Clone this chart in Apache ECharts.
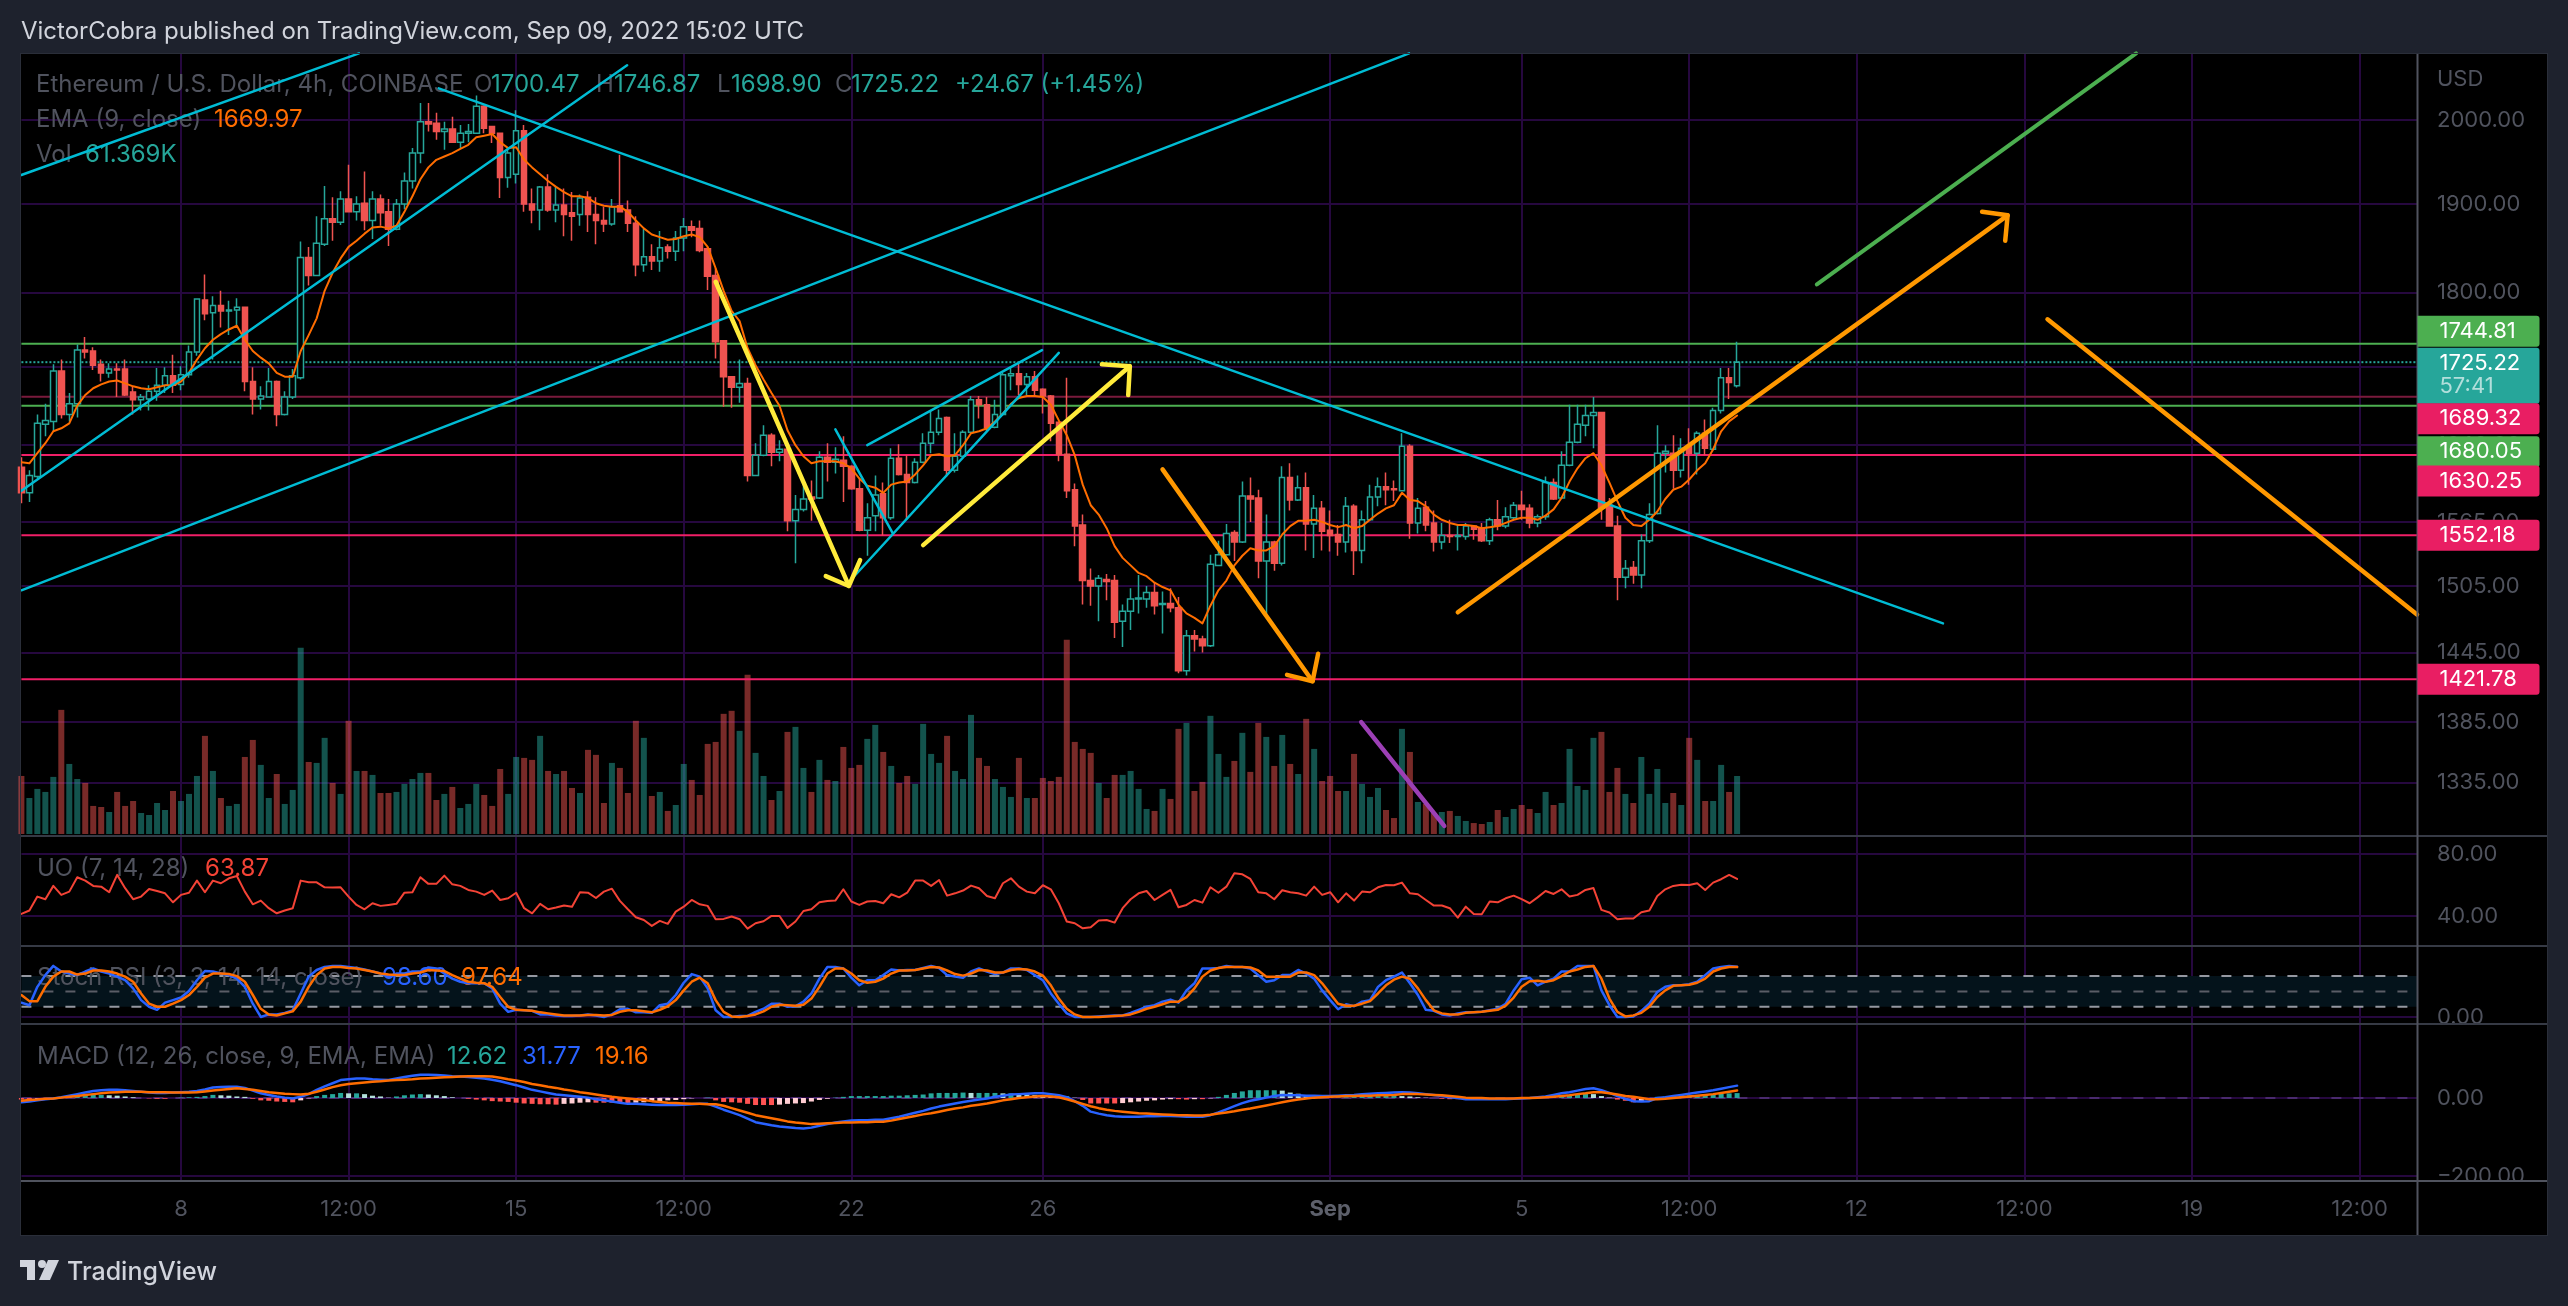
<!DOCTYPE html>
<html><head><meta charset="utf-8">
<script src="https://cdn.jsdelivr.net/npm/echarts@6/dist/echarts.min.js"></script>
<style>html,body{margin:0;padding:0;background:#1e222d}#c{width:2568px;height:1306px}</style></head>
<body><div id="c"></div>
<script>
const opens=[1618,1593,1609,1661,1664,1716,1671,1682,1738,1737,
1723,1714,1718,1718,1694,1686,1687,1695,1701,1711,
1702,1712,1736,1792,1778,1786,1780,1781,1784,1705,
1687,1689,1705,1671,1689,1709,1839,1819,1854,1883,
1879,1906,1891,1901,1881,1906,1891,1871,1900,1927,
1960,1998,1996,1986,1989,1973,1984,1984,2017,1992,
1984,1931,1935,1987,1900,1893,1920,1893,1899,1890,
1888,1908,1888,1881,1877,1898,1893,1878,1831,1840,
1835,1851,1846,1861,1874,1872,1849,1819,1748,1710,
1699,1703,1610,1630,1650,1633,1636,1566,1577,1589,
1588,1628,1623,1625,1619,1597,1557,1571,1592,1569,
1627,1611,1603,1623,1642,1653,1668,1615,1629,1653,
1686,1681,1658,1671,1711,1713,1702,1710,1697,1690,
1663,1631,1596,1562,1510,1505,1511,1510,1473,1482,
1493,1493,1499,1488,1489,1485,1429,1460,1457,1451,
1524,1534,1555,1546,1590,1588,1528,1546,1526,1608,
1586,1598,1563,1578,1557,1553,1546,1580,1538,1567,
1589,1599,1597,1595,1639,1564,1579,1564,1546,1552,
1551,1551,1561,1559,1547,1567,1561,1569,1581,1578,
1564,1570,1603,1588,1620,1643,1660,1670,1673,1581,
1561,1513,1522,1515,1547,1573,1632,1632,1615,1639,
1632,1652,1636,1675,1709,1700.47];
const closes=[1593,1610,1662,1665,1716,1671,1682,1738,1736,1722,
1714,1718,1717,1691,1686,1689,1695,1701,1711,1701,
1712,1736,1793,1777,1786,1780,1781,1784,1705,1687,
1690,1705,1671,1689,1711,1839,1819,1855,1883,1879,
1906,1891,1900,1881,1906,1890,1871,1900,1927,1960,
1998,1995,1986,1989,1973,1984,1986,2017,1990,1984,
1931,1960,1987,1900,1893,1920,1893,1899,1888,1886,
1907,1888,1881,1877,1897,1891,1878,1831,1840,1835,
1850,1846,1861,1874,1870,1847,1818,1747,1710,1699,
1703,1610,1630,1650,1633,1636,1566,1577,1587,1587,
1628,1623,1626,1619,1597,1557,1569,1591,1569,1627,
1611,1603,1623,1642,1653,1667,1615,1629,1653,1686,
1681,1658,1671,1712,1713,1702,1710,1696,1690,1662,
1631,1595,1561,1510,1505,1512,1509,1472,1482,1493,
1494,1499,1487,1489,1485,1429,1460,1457,1451,1525,
1534,1554,1546,1590,1587,1528,1546,1526,1608,1586,
1598,1563,1578,1556,1552,1546,1580,1538,1567,1589,
1599,1596,1596,1639,1564,1578,1562,1546,1552,1551,
1552,1561,1558,1547,1567,1561,1570,1581,1577,1564,
1570,1603,1587,1620,1643,1661,1670,1673,1578,1561,
1513,1521,1515,1547,1572,1632,1634,1615,1637,1632,
1652,1637,1675,1709,1704,1725.22];
const highs=[1628,1615,1671,1682,1723,1728,1693,1744,1752,1741,
1728,1724,1724,1728,1700,1692,1701,1719,1720,1733,
1721,1743,1794,1820,1796,1802,1791,1794,1784,1720,
1700,1719,1706,1695,1718,1857,1851,1886,1921,1908,
1915,1946,1909,1938,1915,1911,1906,1906,1937,1966,
2021,2021,2009,1998,2004,1994,1995,2030,2018,1993,
1984,1967,2012,1994,1918,1921,1935,1921,1918,1914,
1911,1915,1908,1897,1906,1958,1904,1886,1872,1854,
1869,1854,1869,1884,1881,1881,1851,1827,1748,1710,
1728,1709,1642,1660,1652,1645,1642,1591,1605,1605,
1634,1642,1638,1649,1620,1607,1583,1610,1603,1637,
1641,1630,1627,1652,1675,1676,1669,1652,1655,1690,
1690,1689,1686,1714,1719,1724,1714,1716,1698,1691,
1664,1709,1602,1572,1521,1515,1516,1515,1488,1503,
1515,1505,1508,1500,1503,1495,1465,1465,1460,1534,
1547,1563,1557,1604,1608,1596,1572,1547,1619,1622,
1610,1613,1591,1585,1576,1562,1589,1582,1576,1601,
1608,1613,1605,1652,1641,1588,1585,1576,1564,1567,
1562,1564,1562,1564,1569,1586,1579,1584,1595,1582,
1572,1609,1607,1634,1681,1681,1681,1689,1673,1588,
1571,1529,1528,1553,1583,1660,1640,1650,1647,1657,
1654,1666,1678,1719,1719,1746.87];
const lows=[1583,1584,1607,1649,1654,1667,1664,1668,1729,1717,
1705,1709,1689,1690,1671,1675,1675,1685,1693,1693,
1696,1709,1732,1770,1728,1762,1754,1764,1695,1671,
1676,1689,1659,1670,1687,1707,1808,1819,1852,1858,
1876,1891,1881,1870,1860,1875,1852,1870,1894,1918,
1948,1986,1976,1964,1972,1966,1973,1984,1984,1972,
1907,1919,1924,1891,1878,1870,1891,1879,1863,1858,
1875,1868,1854,1868,1875,1891,1868,1818,1823,1825,
1823,1838,1835,1846,1862,1845,1803,1729,1679,1678,
1683,1604,1610,1629,1619,1624,1556,1526,1575,1566,
1587,1604,1612,1584,1596,1556,1533,1556,1552,1567,
1610,1567,1602,1622,1632,1650,1609,1613,1629,1652,
1667,1654,1657,1670,1696,1691,1691,1689,1672,1644,
1624,1588,1542,1488,1487,1473,1492,1458,1450,1465,
1480,1485,1479,1462,1481,1427,1425,1446,1445,1450,
1524,1533,1528,1545,1565,1512,1478,1519,1524,1576,
1585,1538,1531,1538,1537,1533,1536,1515,1526,1566,
1580,1581,1585,1595,1549,1554,1556,1537,1539,1545,
1538,1548,1548,1546,1543,1557,1559,1567,1567,1559,
1560,1567,1586,1588,1619,1642,1649,1637,1567,1561,
1492,1503,1507,1503,1545,1572,1613,1597,1608,1601,
1611,1630,1634,1672,1687,1698.90];
const ema9=[1623,1622,1632,1642,1654,1657,1662,1680,1691,1698,
1702,1705,1706,1703,1700,1698,1697,1699,1701,1701,
1705,1714,1728,1740,1749,1755,1760,1764,1749,1737,
1730,1724,1714,1710,1710,1737,1754,1772,1802,1822,
1838,1851,1858,1866,1873,1874,1872,1875,1891,1909,
1929,1943,1952,1956,1960,1965,1970,1979,1981,1983,
1973,1966,1967,1952,1943,1935,1927,1920,1914,1909,
1909,1907,1901,1898,1897,1897,1891,1881,1872,1865,
1862,1859,1860,1863,1865,1862,1851,1827,1802,1780,
1769,1740,1722,1707,1693,1680,1655,1640,1629,1622,
1624,1624,1624,1622,1617,1607,1600,1598,1593,1601,
1603,1604,1611,1620,1630,1631,1629,1630,1640,1652,
1654,1657,1664,1672,1682,1688,1690,1690,1689,1681,
1665,1650,1630,1601,1581,1572,1559,1542,1531,1524,
1517,1514,1508,1504,1501,1488,1480,1476,1471,1487,
1501,1510,1524,1533,1540,1538,1538,1542,1553,1561,
1566,1566,1567,1565,1562,1560,1562,1559,1561,1567,
1573,1578,1581,1593,1586,1585,1580,1572,1567,1564,
1562,1562,1561,1559,1560,1561,1564,1567,1569,1569,
1567,1571,1577,1588,1604,1617,1627,1632,1620,1603,
1585,1569,1562,1561,1567,1575,1587,1596,1599,1606,
1615,1622,1636,1654,1664,1669.97];
const volumeK=[61.4,38.1,47.7,44.5,60.4,131.3,74.1,58.2,54,29.7,
28.6,23.3,44.5,29.7,34.9,22.2,20.1,32.8,25.4,45.5,
34.9,42.4,61.4,103.8,66.7,38.1,29.7,31.8,81.5,99.5,
73.1,38.1,63.5,31.8,46.6,197,76.2,75.2,101.7,54,
42.4,119.7,66.7,66.7,62.5,43.4,43.4,44.5,53,58.2,
64.6,64.6,36,42.4,49.8,27.5,31.8,53,41.3,29.7,
68.8,42.4,81.5,80.5,78.4,103.8,66.7,63.5,66.7,48.7,
43.4,89,83.7,32.8,75.2,69.9,43.4,119.7,101.7,40.2,
44.5,24.4,30.7,74.1,57.2,41.3,95.3,97.4,127.1,130.3,
109.1,168.4,85.8,61.4,36,45.5,108,113.3,69.9,44.5,
78.4,57.2,56.1,92.1,69.9,73.1,100.6,115.4,86.8,72,
54,61.4,53,116.5,84.7,75.2,103.8,66.7,58.2,126,
80.5,72,58.2,49.8,39.2,80.5,38.1,38.1,59.3,56.1,
60.4,205.4,97.4,90,85.8,54,38.1,62.5,62.5,66.7,
47.7,26.5,24.4,47.7,37.1,111.2,117.5,45.5,55.1,125,
84.7,60.4,77.3,107,65.7,117.5,102.7,72,104.8,74.1,
63.5,121.8,90,56.1,61.4,45.5,45.5,84.7,53,39.2,
48.7,25.4,16.9,111.2,86.8,33.9,31.8,22.2,23.3,24.4,
19.1,13.8,11.6,10.6,12.7,25.4,18,26.5,30.7,26.5,
22.2,44.5,30.7,32.8,90,50.8,46.6,101.7,108,44.5,
69.9,42.4,32.8,81.5,42.4,68.8,32.8,43.4,30.7,101.7,
78.4,34.9,34.9,73.1,44.5,61.369];
const uo=[41.3,43.5,52.5,50.8,59.4,53.6,55.7,65,62.8,59.4,
58.9,55.3,66.5,57.9,50.8,52.5,57.4,56.1,54.6,48.8,
53.6,55,62.8,55.3,62.8,61.1,64.3,65.8,55.7,47.5,
49.9,45,41.7,43.5,45,62.8,61.7,61.7,58.5,58.3,
58.5,52.5,47.1,44.3,48.2,46.5,47.1,47.8,55,55.3,
65,60.7,60.7,66,60.4,59.4,56.8,55.7,53.6,56.4,
50.3,51.4,55,45,41.7,47.8,44.3,45.4,46.7,46,
55.3,55,51.6,55.7,57.6,49.7,44.3,39.2,37.4,33.6,
36.8,34.9,42.8,46,50.3,47.5,46.5,37.9,38.1,39.6,
37.9,31.8,35.3,36.6,40,40,32.3,36.4,43.2,44.3,
48.8,49.7,49.9,57.2,49.3,47.1,49.3,49.7,48.2,54,
52,55,62.8,62.8,59.4,63.2,53.1,54.6,56.4,59.6,
57.9,52.9,51.4,61.1,64.3,58.9,55.7,54.6,59.8,57.2,
48.2,36.4,35.3,32,32.7,37,37.4,35.7,45,50.8,
54.6,56.1,50.3,53.6,56.8,45.6,47.1,50.3,48.6,58.5,
55,58.9,67.5,66.9,63.9,55.3,54.6,50.8,56.6,55.3,
54.6,53.1,58.9,53.6,55.3,48.8,54.6,49.9,55.7,55.3,
58.5,60,59.8,61.5,54.6,54,50.3,46.7,46.7,45,
38.9,46,41.3,41.1,49.3,48.8,51.4,53.1,50.8,48.2,
52,56.1,54.2,57.2,52.5,53.6,56.8,58,43.9,42.2,
37.9,38.3,38.3,42.4,43.5,52.9,57.2,59.4,60.2,60,
61.1,56.8,61.5,63.7,66.5,63.87];
const stochK=[28,23,59,82,100,89,85,82,89,95,
89,85,79,72,56,33,20,14,28,33,
38,51,72,90,89,85,82,75,59,26,
0,5,5,8,13,46,79,92,98,100,
100,98,96,93,89,85,79,85,85,89,
89,97,95,85,75,69,66,66,66,56,
26,10,14,13,12,5,5,3,2,2,
3,5,3,0,5,15,16,9,9,8,
23,26,43,67,84,79,56,13,0,0,
2,2,10,16,26,26,20,21,30,46,
75,98,98,95,77,62,72,72,82,93,
91,92,92,96,100,96,82,79,77,89,
95,89,84,87,95,95,92,82,72,46,
26,7,0,0,0,1,2,3,3,8,
14,20,23,30,34,28,52,66,95,95,
96,100,98,98,95,82,69,72,82,82,
92,85,75,52,33,15,25,21,30,33,
59,72,79,87,66,43,14,12,5,3,
7,9,9,10,13,16,26,52,74,77,
62,69,75,89,89,100,100,100,52,23,
0,0,1,12,26,49,59,62,62,64,
69,82,95,98,100,98.6];
const stochD=[43,31,31,59,79,89,89,83,85,91,
91,89,85,79,69,46,26,20,20,26,
33,43,59,77,85,85,84,80,69,43,
16,5,3,7,11,30,59,82,95,98,
98,96,95,92,89,85,83,82,82,85,
87,92,91,90,82,75,69,67,66,59,
39,20,14,13,12,9,7,5,3,3,
3,4,4,3,4,10,13,13,11,9,
14,21,33,52,69,77,66,33,10,1,
0,2,5,11,20,24,23,22,24,36,
59,85,95,95,85,72,67,69,75,85,
91,91,92,95,98,97,91,84,81,85,
92,91,87,87,92,94,93,89,81,62,
36,16,5,0,0,0,1,2,3,5,
10,16,20,25,30,30,39,56,79,91,
96,98,98,98,97,91,79,79,79,79,
87,87,82,66,46,26,22,22,26,31,
46,62,73,79,75,56,33,13,7,5,
5,8,9,10,12,14,22,38,59,70,
71,69,72,80,89,93,98,100,75,36,
10,1,3,8,20,39,52,61,62,63,
67,75,89,95,98,97.64];
const macd=[-11,-9,-6,-3,-1,2,6,10,14,18,
20,21,21,20,18,16,14,13,13,14,
15,16,18,22,27,28,29,29,26,19,
12,8,4,1,-1,3,10,21,30,38,
46,48,50,50,48,47,46,50,54,57,
60,60,59,58,56,55,54,52,50,47,
43,38,33,27,21,17,13,9,7,5,
3,1,-3,-6,-9,-12,-15,-15,-16,-17,
-18,-18,-18,-17,-16,-15,-15,-22,-30,-37,
-44,-53,-62,-66,-70,-73,-75,-77,-78,-76,
-71,-67,-63,-60,-58,-57,-57,-56,-56,-52,
-48,-43,-38,-33,-27,-22,-18,-14,-10,-7,
-4,-1,3,6,9,10,11,12,12,10,
7,2,-8,-20,-35,-40,-44,-47,-48,-48,
-48,-47,-47,-46,-46,-47,-48,-48,-48,-44,
-37,-29,-21,-13,-7,-3,1,5,8,7,
7,6,6,5,5,6,7,8,10,11,
12,13,14,15,14,12,10,8,5,2,
0,-3,-3,-3,-3,-3,-3,-2,-1,0,
2,4,8,12,15,19,23,25,20,13,
5,-2,-8,-9,-8,0,2,5,8,11,
14,17,20,24,28,31.77];
const macdSignal=[-7,-5,-4,-2,-1,1,3,5,8,10,
12,14,15,16,16,16,15,15,15,14,
14,14,15,17,19,21,23,25,23,21,
18,15,13,11,10,9,11,16,22,28,
33,36,38,40,42,43,45,46,47,48,
50,51,52,53,54,55,56,56,56,55,
52,48,45,41,36,33,29,26,22,19,
15,12,9,6,3,1,-1,-3,-5,-8,
-10,-12,-13,-14,-15,-15,-16,-16,-20,-26,
-32,-38,-44,-48,-52,-56,-60,-63,-65,-67,
-66,-65,-64,-63,-63,-62,-62,-61,-61,-58,
-54,-50,-46,-42,-39,-35,-31,-27,-24,-20,
-17,-14,-10,-6,-3,0,2,4,5,4,
2,-3,-9,-15,-21,-26,-30,-33,-35,-37,
-39,-40,-41,-42,-43,-44,-44,-45,-45,-43,
-40,-37,-34,-30,-27,-23,-19,-15,-11,-7,
-4,-1,1,2,3,4,5,5,6,6,
7,7,8,10,10,10,9,8,7,5,
3,1,0,0,-1,-1,-1,-1,0,0,
1,2,3,5,7,10,12,15,15,12,
9,5,3,0,-3,-3,-2,0,2,4,
6,8,10,13,16,19.16];
const macdHist=[-4,-4,-2,-1,0,1,3,5,6,8,
8,7,6,4,2,0,-1,-2,-2,0,
1,2,3,5,8,7,6,4,3,-2,
-6,-7,-9,-10,-11,-6,-1,5,8,10,
13,12,12,10,6,4,1,4,7,9,
10,9,7,5,2,0,-2,-4,-6,-8,
-9,-10,-12,-14,-15,-16,-16,-17,-15,-14,
-12,-11,-12,-12,-12,-13,-14,-12,-11,-9,
-8,-6,-5,-3,-1,0,1,-6,-10,-11,
-12,-15,-18,-18,-18,-17,-15,-14,-13,-9,
-5,-2,1,3,5,5,5,5,5,6,
6,7,8,9,12,13,13,13,14,13,
13,13,13,12,12,10,9,8,7,6,
5,5,1,-5,-14,-14,-14,-14,-13,-11,
-9,-7,-6,-4,-3,-3,-4,-3,-3,-1,
3,8,13,17,20,20,20,20,19,14,
11,7,5,3,2,2,2,3,4,5,
5,6,6,5,4,2,1,0,-2,-3,
-3,-4,-3,-3,-2,-2,-2,-1,-1,0,
1,2,5,7,8,9,11,10,5,1,
-4,-7,-11,-9,-5,3,4,5,6,7,
8,9,10,11,12,12.62];

const xTickIndex=[20,41,62,83,104,128,164,188,209,230,251,272,293];
const xTickLabels=['8','12:00','15','12:00','22','26','Sep','5','12:00','12','12:00','19','12:00'];
const priceTicks=[2000,1900,1800,1720,1640,1565,1505,1445,1385,1335];
const uoTicks=[80,40];
const stochTicks=[0];
const macdTicks=[0,-200];

const levelGreen=[1744.81,1680.05];
const levelDarkRed=[1689.32];
const levelPink=[1630.25,1552.18,1421.78];
const lastPrice=1725.22;

const cyanLines=[
 [[0,1934],[42.3,2083]],
 [[0,1501],[173.9,2083]],
 [[0,1595],[75.9,2068]],
 [[52.3,2039],[240.8,1471]],
 [[106,1640],[127.9,1738]],
 [[103.5,1507],[130,1735]],
 [[102,1656],[109.2,1554]]
];
const yellowLines=[
 [[87,1812],[103.7,1505]],
 [[100.8,1514],[103.7,1505],[105.1,1529]],
 [[113,1543],[138.9,1721]],
 [[135.4,1723],[138.9,1721],[138.7,1691]]
];
const orangeLines=[
 [[143,1616],[161.8,1420]],
 [[158.6,1425.5],[161.8,1420],[162.5,1444]],
 [[180,1481],[248.9,1887]],
 [[245.7,1891],[248.9,1887],[248.6,1858]],
 [[253.9,1771],[300.2,1479]]
];
const greenLines=[[[225,1809],[265,2083]]];
const purpleLines=[[[167.9,1385],[178.3,1300]]];

const named={opens,closes,highs,lows,ema9,volumeK,uo,stochK,stochD,macd,macdSignal,macdHist};
for(const k in named){ if(named[k].length!==216) throw new Error(k+' length '+named[k].length); }

const X_MAX=300.2, L=21.4, W=2395.6;
const TEAL='#26a69a', RED='#ef5350', AXIS='#50535e', GRID='#26083f';
const FONT='Inter, "Noto Sans", sans-serif';
const idx=opens.map((_,i)=>i);
const up=i=>closes[i]>=opens[i];
const pair=(a,i)=>[i,a[i]];

function xAxis(gridIndex,showLabel){
  return {type:'value',gridIndex,min:0,max:X_MAX,
    axisLine:{show:false},
    axisTick:{show:false,customValues:xTickIndex},
    splitLine:{show:true,lineStyle:{color:GRID,width:2}},
    axisLabel:{show:showLabel,customValues:xTickIndex,margin:17,color:AXIS,fontFamily:FONT,fontSize:22,
      formatter:v=>{const s=xTickLabels[xTickIndex.indexOf(v)]; return s==='Sep'?'{b|Sep}':s;},
      rich:{b:{fontWeight:'bold',color:'#5d606b',fontFamily:FONT,fontSize:22}}}};
}
function yAxis(gridIndex,min,max,ticks,type){
  return {type:type||'value',gridIndex,position:'right',min,max,scale:true,
    axisLine:{show:false},
    axisTick:{show:false,customValues:ticks},
    splitLine:{show:true,lineStyle:{color:GRID,width:2}},
    axisLabel:{show:true,customValues:ticks,margin:20,color:AXIS,fontFamily:FONT,fontSize:22,
      formatter:v=>Number(v).toFixed(2).replace('-','\u2212')}};
}
function seg(name,data,color,width,extra){
  return Object.assign({type:'line',name,data,showSymbol:false,symbol:'none',silent:true,z:4,
    lineStyle:{color,width,cap:'round',join:'round'}},extra||{});
}
function hline(name,v,color,width,type,x,y,z){
  return seg(name,[[0,v],[X_MAX,v]],color,width,{xAxisIndex:x||0,yAxisIndex:y||0,z:z||2,
    lineStyle:{color,width,type:type||'solid'}});
}

const series=[];
series.push({type:'bar',name:'Vol',xAxisIndex:0,yAxisIndex:1,barWidth:6,z:1,silent:true,
  data:idx.map(i=>({value:[i,volumeK[i]],itemStyle:{color:up(i)?'rgba(38,166,154,0.5)':'rgba(239,83,80,0.5)'}}))});
levelDarkRed.forEach(v=>series.push(hline('level',v,'#7a1a3c',2)));
levelGreen.forEach(v=>series.push(hline('level',v,'#4caf50',2)));
levelPink.forEach(v=>series.push(hline('level',v,'#f01f67',2)));
series.push(hline('last',lastPrice,TEAL,2,'dotted'));
series.push({type:'candlestick',name:'ETHUSD',xAxisIndex:0,yAxisIndex:0,barWidth:6,z:3,silent:true,
  data:idx.map(i=>[i,opens[i],closes[i],lows[i],highs[i]]),
  itemStyle:{color:'#000',color0:RED,borderColor:TEAL,borderColor0:RED,borderWidth:1.5}});
series.push(seg('EMA',idx.map(i=>pair(ema9,i)),'#ff6d00',2,{z:4}));
cyanLines.forEach(d=>series.push(seg('trend',d,'#00bcd4',2.5,{z:5})));
yellowLines.forEach(d=>series.push(seg('arrow',d,'#ffeb3b',4.5,{z:6})));
orangeLines.forEach(d=>series.push(seg('arrow',d,'#ff9800',4.5,{z:6})));
greenLines.forEach(d=>series.push(seg('trend',d,'#4caf50',4,{z:6})));
purpleLines.forEach(d=>series.push(seg('trend',d,'#9c3fb5',4.5,{z:6})));

series.push(seg('UO',idx.map(i=>pair(uo,i)),'#f44336',2,{xAxisIndex:1,yAxisIndex:2}));

series.push(seg('band',[[0,50],[X_MAX,50]],'#5a5d66',2,{xAxisIndex:2,yAxisIndex:3,z:2,
  lineStyle:{color:'#5a5d66',width:2,type:[10,12]},
  markArea:{silent:true,itemStyle:{color:'#04131b'},data:[[{yAxis:80},{yAxis:20}]]}}));
[80,20].forEach(v=>series.push(seg('band',[[0,v],[X_MAX,v]],'#9598a1',2,{xAxisIndex:2,yAxisIndex:3,z:2,
  lineStyle:{color:'#9598a1',width:2,type:[10,12]}})));
series.push(seg('K',idx.map(i=>pair(stochK,i)),'#2962ff',2.5,{xAxisIndex:2,yAxisIndex:3}));
series.push(seg('D',idx.map(i=>pair(stochD,i)),'#ff6d00',2.5,{xAxisIndex:2,yAxisIndex:3}));

series.push(seg('zero',[[0,0],[X_MAX,0]],'#4a2a6e',2,{xAxisIndex:3,yAxisIndex:4,z:2,
  lineStyle:{color:'#4a2a6e',width:2,type:[10,12]}}));
series.push({type:'bar',name:'Hist',xAxisIndex:3,yAxisIndex:4,barWidth:5,z:3,silent:true,
  data:idx.map(i=>{const v=macdHist[i],p=i?macdHist[i-1]:0;
    const c=v>=0?(v>=p?TEAL:'#b2dfdb'):(v<=p?'#ff5252':'#ffcdd2');
    return {value:[i,v],itemStyle:{color:c}};})});
series.push(seg('MACD',idx.map(i=>pair(macd,i)),'#2962ff',2.5,{xAxisIndex:3,yAxisIndex:4}));
series.push(seg('Signal',idx.map(i=>pair(macdSignal,i)),'#ff6d00',2.5,{xAxisIndex:3,yAxisIndex:4}));

const boxLabel=(text,bg,off)=>({show:true,position:'right',distance:0,offset:[0,off],formatter:text,
  backgroundColor:bg,color:'#fff',fontFamily:FONT,fontSize:22,width:100,padding:[5,0,5,22],lineHeight:21,
  borderRadius:[0,3,3,0],align:'left',
  rich:{s:{color:'#b2dfdb',fontFamily:FONT,fontSize:22,lineHeight:25}}});
const badge=(v,text,bg,off)=>({value:[X_MAX,v],label:boxLabel(text,bg,off)});
series.push({type:'scatter',name:'badges',xAxisIndex:0,yAxisIndex:0,clip:false,symbolSize:1,silent:true,z:20,
  itemStyle:{color:'rgba(0,0,0,0)',opacity:1},
  data:[
   badge(1744.81,'1744.81','#4caf50',-12.5),
   badge(1725.22,'1725.22\n{s|57:41}',TEAL,13.5),
   badge(1689.32,'1689.32','#e91e63',22),
   badge(1680.05,'1680.05','#4caf50',46),
   badge(1630.25,'1630.25','#e91e63',26),
   badge(1552.18,'1552.18','#e91e63',0),
   badge(1421.78,'1421.78','#e91e63',0)
  ]});

const txt=(x,y,text,color,size,extra)=>({type:'text',x,y,silent:true,z:extra&&extra.z!==undefined?extra.z:3,
  style:{text,fill:color,fontFamily:FONT,fontSize:size||24,textVerticalAlign:'middle',fontWeight:extra&&extra.w||'normal'}});
const rect=(x,y,w,h,fill,z)=>({type:'rect',silent:true,z,shape:{x,y,width:w,height:h},style:{fill}});

const graphic=[
 rect(21,53,2527,1183,'#000',-5),
 rect(2419,1025,128,9,'#000',1),
 rect(2419,1182,128,11,'#000',1),
 txt(21,32,'VictorCobra published on TradingView.com, Sep 09, 2022 15:02 UTC','#d1d4dc',24,{z:30}),
 txt(2437,79,'USD',AXIS,22,{z:30}),
 txt(36,85,'Ethereum / U.S. Dollar, 4h, COINBASE',AXIS),
 txt(474,85,'O',AXIS), txt(491,85,'1700.47',TEAL),
 txt(596,85,'H',AXIS), txt(614,85,'1746.87',TEAL),
 txt(717,85,'L',AXIS), txt(731,85,'1698.90',TEAL),
 txt(835,85,'C',AXIS), txt(851,85,'1725.22',TEAL),
 txt(955,85,'+24.67 (+1.45%)',TEAL),
 txt(36,120,'EMA (9, close)',AXIS), txt(214,120,'1669.97','#ff6d00'),
 txt(36,155,'Vol',AXIS), txt(85,155,'61.369K',TEAL),
 txt(37,869,'UO (7, 14, 28)',AXIS), txt(205,869,'63.87','#f44336'),
 txt(37,978,'Stoch RSI (3, 3, 14, 14, close)',AXIS), txt(382,978,'98.60','#2962ff'), txt(461,978,'97.64','#ff6d00'),
 txt(37,1057,'MACD (12, 26, close, 9, EMA, EMA)',AXIS), txt(447,1057,'12.62',TEAL), txt(522,1057,'31.77','#2962ff'), txt(595,1057,'19.16','#ff6d00'),
 rect(21,835,2527,2,'#363a45',15),
 rect(21,945,2527,2,'#363a45',15),
 rect(21,1023,2527,2,'#363a45',15),
 rect(21,1180,2527,2,'#50535e',15),
 rect(2416.5,53,2,1183,'#50535e',15),
 rect(21,53,2527,1,'#2a2e39',15),
 rect(21,1235,2527,1,'#2a2e39',15),
 rect(2547,53,1,1183,'#2a2e39',15),
 rect(20,53,1,1183,'#2a2e39',15),
 {type:'polygon',silent:true,z:30,shape:{points:[[20,1260],[35,1260],[35,1280],[27,1280],[27,1267],[20,1267]]},style:{fill:'#d1d4dc'}},
 {type:'circle',silent:true,z:30,shape:{cx:42,cy:1264,r:4},style:{fill:'#d1d4dc'}},
 {type:'polygon',silent:true,z:30,shape:{points:[[48,1260],[59,1260],[50,1280],[39,1280]]},style:{fill:'#d1d4dc'}},
 txt(67,1272,'TradingView','#d1d4dc',25,{z:30,w:'500'})
];

const grids=[
 {left:L,width:W,top:53,height:783},
 {left:L,width:W,top:836,height:110},
 {left:L,width:W,top:946,height:78},
 {left:L,width:W,top:1024,height:157}
];
const chart=echarts.init(document.getElementById('c'),null,{renderer:'canvas',width:2568,height:1306});
chart.setOption({
 animation:false,backgroundColor:'#1e222d',
 grid:grids,
 xAxis:[xAxis(0,false),xAxis(1,false),xAxis(2,false),xAxis(3,true)],
 yAxis:[
  yAxis(0,1292,2083.5,priceTicks,'log'),
  {type:'value',gridIndex:0,position:'left',min:-2.1,max:826,show:false,splitLine:{show:false}},
  yAxis(1,20.6,91.6,uoTicks),
  yAxis(2,-13.8,139,stochTicks),
  yAxis(3,-213,190,macdTicks)
 ],
 series,graphic
});
</script></body></html>
